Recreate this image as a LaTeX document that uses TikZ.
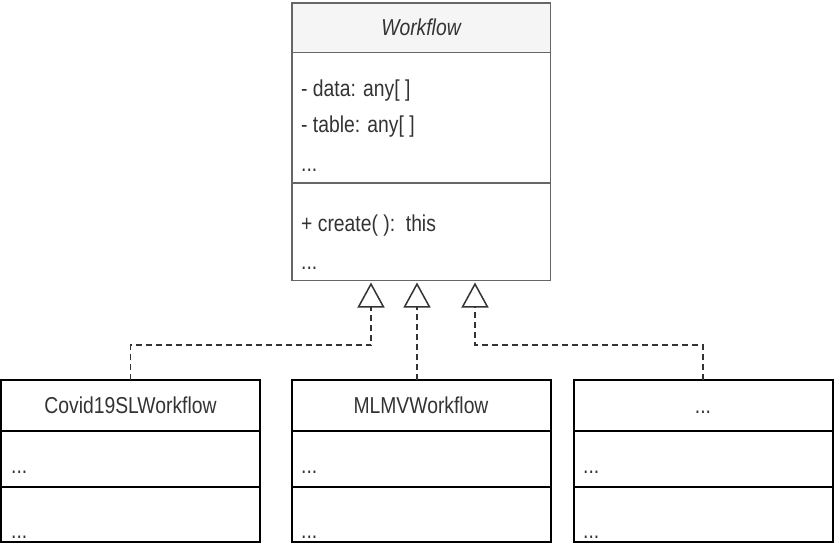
\documentclass[tikz,border=0pt]{standalone}
\usepackage{fontspec}
\setmainfont{Liberation Sans}[FakeStretch=0.84]
\usetikzlibrary{arrows.meta}
\definecolor{txtgray}{HTML}{333333}
\definecolor{linegray}{HTML}{666666}
\definecolor{headfill}{HTML}{F5F5F5}
\tikzset{
  cls/.style={draw=black,line width=2pt,inner sep=0pt,outer sep=0pt,minimum width=259pt,text=txtgray,font=\fontsize{23}{27}\selectfont},
  head/.style={cls,minimum height=51pt,text height=16pt,text depth=0pt},
  comp/.style={cls,minimum height=55.5pt,anchor=north},
  topcls/.style={draw=linegray,line width=1.5pt,minimum width=258.5pt},
  member/.style={anchor=base west,inner sep=0pt,text=txtgray,font=\fontsize{23}{27}\selectfont},
  realize/.style={draw=txtgray,line width=1.5pt,dash pattern=on 6pt off 4pt,-{Triangle[open,length=25pt,width=27pt]}}
}
\begin{document}
\begin{tikzpicture}[x=1pt,y=-1pt]
        \useasboundingbox(0,0)rectangle(834,550);
        % superclass
        \node[head,topcls,fill=headfill,minimum height=49.5pt](wf)at(421,27.5){\itshape Workflow};
        \node[cls,topcls,minimum height=130.5pt,anchor=north](wfattr)at(wf.south){};
        \node[cls,topcls,minimum height=97.5pt,anchor=north](wfmeth)at(wfattr.south){};
        \node[member](wfa1)at(301,96){- data: any[ ]};
        \node[member](wfa2)at(301,132){- table: any[ ]};
        \node[member](wfa3)at(301,171){...};
        \node[member](wfm1)at(301,231.5){+ create( ):\ \ this};
        \node[member](wfm2)at(301,269){...};
        \coordinate(j1)at(371,282.5);
        \coordinate(j2)at(417,282.5);
        \coordinate(j3)at(475,282.5);
        % subclasses
        \node[head](c19)at(130.5,405.5){Covid19SLWorkflow};
        \node[comp](c19attr)at(c19.south){};
        \node[comp](c19meth)at(c19attr.south){};
        \node[head](mlmv)at(421,405.5){MLMVWorkflow};
        \node[comp](mlmvattr)at(mlmv.south){};
        \node[comp](mlmvmeth)at(mlmvattr.south){};
        \node[head](oth)at(703,405.5){...};
        \node[comp](othattr)at(oth.south){};
        \node[comp](othmeth)at(othattr.south){};
        \node[member](c19a)at(11,473.5){...};
        \node[member](c19m)at(11,538){...};
        \node[member](mlmva)at(301,473.5){...};
        \node[member](mlmvm)at(301,538){...};
        \node[member](otha)at(583,473.5){...};
        \node[member](othm)at(583,538){...};
        % realizations
        \draw[realize](c19.north)--++(0,-35)-|(j1);
        \draw[realize](j2|-mlmv.north)--(j2);
        \draw[realize](oth.north)--++(0,-35)-|(j3);
    \end{tikzpicture}
\end{document}
